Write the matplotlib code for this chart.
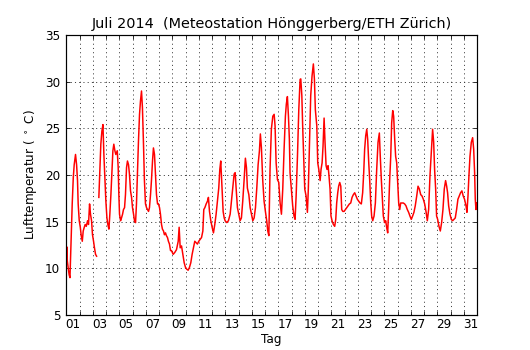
import numpy as np
import matplotlib
matplotlib.use('Agg')
import matplotlib.pyplot as plt
from matplotlib.ticker import FixedLocator, FixedFormatter, NullFormatter

# time in days since 1 July 2014 00:00, temperature in deg C (NaN = missing data)
DAYS = [
    0.00, 0.04, 0.08, 0.15, 0.22, 0.28, 0.35, 0.45, 0.53, 0.60, 0.70, 0.78, 0.85, 0.90, 0.98,
    1.06, 1.13, 1.21, 1.28, 1.36, 1.43, 1.51, 1.61, 1.68, 1.76, 1.83, 1.91, 1.98,
    2.06, 2.13, 2.21, 2.29, 2.37, 2.46, 2.54, 2.61, 2.69, 2.77, 2.84, 2.92, 2.99,
    3.07, 3.14, 3.22, 3.29, 3.37, 3.44, 3.52, 3.59, 3.67, 3.74, 3.85, 3.92, 3.97,
    4.02, 4.10, 4.17, 4.25, 4.32, 4.40, 4.47, 4.55, 4.62, 4.70, 4.77, 4.85, 4.93,
    5.00, 5.08, 5.15, 5.23, 5.30, 5.38, 5.45, 5.53, 5.60, 5.68, 5.75, 5.83, 5.90, 5.98,
    6.06, 6.13, 6.21, 6.28, 6.36, 6.43, 6.51, 6.58, 6.66, 6.73, 6.81, 6.89, 6.96,
    7.04, 7.11, 7.19, 7.26, 7.34, 7.41, 7.49, 7.56, 7.64, 7.71, 7.79, 7.87, 7.94,
    8.07, 8.19, 8.32, 8.45, 8.52, 8.60, 8.70, 8.80, 8.90,
    9.00, 9.10, 9.20, 9.30, 9.40, 9.50, 9.60, 9.70, 9.80, 9.90,
    10.00, 10.11, 10.21, 10.31, 10.38, 10.46, 10.56, 10.66, 10.73, 10.81, 10.91,
    11.01, 11.11, 11.21, 11.31, 11.41, 11.51, 11.59, 11.66, 11.76, 11.84, 11.92, 11.99,
    12.12, 12.24, 12.37, 12.47, 12.57, 12.67, 12.75, 12.82, 12.92,
    13.02, 13.12, 13.22, 13.32, 13.42, 13.52, 13.60, 13.67, 13.78, 13.88, 13.98,
    14.08, 14.18, 14.28, 14.38, 14.48, 14.58, 14.65, 14.73, 14.83, 14.93,
    15.03, 15.13, 15.21, 15.29, 15.38, 15.48, 15.59, 15.69, 15.76, 15.84, 15.94,
    16.04, 16.14, 16.24, 16.34, 16.44, 16.54, 16.61, 16.69, 16.77, 16.84, 16.89, 16.99,
    17.09, 17.19, 17.27, 17.35, 17.45, 17.55, 17.65, 17.70, 17.78, 17.85, 17.93,
    18.00, 18.10, 18.20, 18.27, 18.35, 18.45, 18.55, 18.65, 18.73, 18.80, 18.91, 18.98,
    19.06, 19.16, 19.23, 19.31, 19.38, 19.46, 19.53, 19.61, 19.68, 19.76, 19.83, 19.91, 19.98,
    20.06, 20.16, 20.26, 20.34, 20.41, 20.49, 20.56, 20.64, 20.72, 20.79, 20.87, 20.97,
    21.07, 21.17, 21.27, 21.37, 21.47, 21.57, 21.67, 21.77, 21.87, 21.97,
    22.07, 22.17, 22.27, 22.37, 22.45, 22.52, 22.60, 22.68, 22.75, 22.83, 22.90, 22.98,
    23.05, 23.13, 23.23, 23.33, 23.43, 23.53, 23.63, 23.70, 23.78, 23.85, 23.93,
    24.03, 24.11, 24.18, 24.26, 24.33, 24.41, 24.49, 24.56, 24.64, 24.71, 24.79, 24.86, 24.94,
    25.01, 25.09, 25.17, 25.24, 25.34, 25.44, 25.54, 25.64, 25.74, 25.84, 25.94,
    26.04, 26.14, 26.24, 26.34, 26.45, 26.55, 26.65, 26.75, 26.85, 26.95,
    27.05, 27.15, 27.25, 27.35, 27.45, 27.55, 27.65, 27.73, 27.80, 27.88, 27.95,
    28.03, 28.13, 28.23, 28.33, 28.43, 28.53, 28.63, 28.71, 28.78, 28.86, 28.96,
    29.06, 29.16, 29.26, 29.36, 29.46, 29.56, 29.66, 29.76, 29.86, 29.96,
    30.06, 30.17, 30.24, 30.32, 30.39, 30.47, 30.57, 30.67, 30.75, 30.82, 30.87, 30.92, 30.97,
]
TEMP = [
    11.0, 12.3, 10.8, 10.0, 9.3, 9.0, 12.2, 16.9, 19.7, 21.1, 22.2, 21.1, 19.4, 16.9, 15.1,
    14.4, 13.5, 12.9, 14.0, 14.4, 14.7, 14.5, 15.1, 14.7, 16.9, 15.8, 15.1, 13.6,
    12.9, 12.2, 11.5, 11.3, np.nan, 17.6, 20.8, 23.3, 24.7, 25.4, 22.2, 19.4, 17.2,
    15.4, 14.7, 14.2, 15.8, 17.9, 20.1, 22.6, 23.3, 22.6, 22.2, 22.6, 20.8, 17.9,
    15.8, 15.1, 15.4, 15.8, 16.3, 16.5, 17.9, 20.8, 21.5, 21.1, 20.1, 18.3, 17.6,
    16.5, 15.8, 15.1, 14.9, 16.9, 20.4, 23.6, 26.5, 27.9, 29.0, 27.2, 23.3, 19.4, 16.9,
    16.5, 16.3, 16.1, 16.5, 17.9, 19.4, 21.5, 22.9, 22.2, 20.1, 17.9, 16.9, 16.9,
    16.5, 15.8, 14.7, 14.2, 14.0, 13.6, 13.8, 13.5, 13.3, 12.9, 12.6, 11.9, 11.9,
    11.5, 11.7, 12.0, 12.9, 14.4, 12.2, 12.4, 11.5, 10.6,
    10.1, 9.9, 9.8, 10.1, 10.6, 11.5, 12.2, 12.9, 12.75, 12.6,
    12.9, 13.1, 13.3, 14.0, 16.3, 16.5, 16.9, 17.2, 17.6, 16.1, 15.1,
    14.4, 13.8, 14.7, 15.8, 17.2, 18.6, 20.6, 21.5, 18.6, 16.1, 15.4, 15.1,
    14.9, 15.1, 15.8, 17.2, 18.6, 20.1, 20.25, 18.6, 16.5,
    15.8, 15.1, 15.4, 17.2, 19.4, 21.8, 20.8, 18.6, 17.9, 16.5, 15.8,
    15.1, 15.4, 16.5, 18.6, 21.1, 22.6, 24.4, 22.9, 19.4, 17.2,
    16.1, 15.1, 14.0, 13.5, 20.6, 24.9, 26.3, 26.5, 25.25, 21.3, 19.5,
    19.2, 17.0, 15.8, 18.5, 22.75, 26.3, 27.6, 28.4, 26.3, 23.8, 20.25, 18.5,
    16.7, 15.6, 15.25, 17.75, 22.0, 27.0, 30.25, 30.3, 28.5, 24.9, 21.3,
    18.5, 17.75, 16.0, 18.5, 22.75, 28.5, 30.6, 31.9, 30.25, 27.0, 25.25, 21.3,
    20.6, 19.4, 20.6, 21.3, 23.1, 26.1, 23.5, 21.0, 20.6, 21.0, 19.9, 18.5, 15.6,
    15.1, 14.7, 14.5, 15.25, 17.0, 18.1, 18.8, 19.2, 18.8, 16.3, 16.1, 16.1,
    16.3, 16.5, 16.7, 16.9, 17.0, 17.6, 17.9, 18.1, 17.75, 17.4,
    17.2, 17.0, 16.9, 18.1, 20.25, 22.75, 24.2, 24.9, 23.8, 21.3, 19.5, 17.0,
    15.6, 15.1, 15.6, 17.0, 20.6, 23.5, 24.5, 22.0, 19.5, 17.75, 15.6,
    14.9, 15.1, 14.4, 13.8, 16.3, 19.5, 22.0, 25.6, 26.9, 26.3, 23.8, 22.0, 21.3,
    19.2, 17.0, 16.3, 17.0, 17.0, 17.0, 16.9, 16.7, 16.3, 16.0, 15.6,
    15.25, 15.6, 16.0, 16.7, 17.75, 18.8, 18.5, 17.9, 17.75, 17.4,
    16.9, 16.1, 15.1, 16.3, 19.9, 22.4, 24.9, 23.5, 20.6, 18.5, 15.6,
    15.25, 14.5, 14.0, 14.9, 16.3, 18.5, 19.4, 18.8, 18.1, 16.7, 15.8,
    15.25, 15.1, 15.25, 15.4, 16.3, 17.4, 17.75, 18.1, 18.3, 17.75,
    17.4, 16.7, 16.0, 17.75, 19.9, 22.0, 23.5, 24.0, 22.75, 20.25, 17.4, 16.3, 17.0,
]

MAJOR_DAYS = list(range(0, 32))
LABEL_POS = [0.5, 2.5, 4.5, 6.5, 8.5, 10.5, 12.5, 14.5, 16.5, 18.5, 20.5, 22.5, 24.5,
             26.5, 28.5, 30.5]
DAY_LABELS = ['01', '03', '05', '07', '09', '11', '13', '15', '17', '19', '21', '23',
              '25', '27', '29', '31']
Y_TICKS = [5, 10, 15, 20, 25, 30, 35]

TITLE = 'Juli 2014  (Meteostation Hönggerberg/ETH Zürich)'

DPI = 72
fig = plt.figure(figsize=(530 / DPI, 350 / DPI), dpi=DPI, facecolor='white')
ax = fig.add_axes([0.125, 0.1, 0.775, 0.8])

ax.plot(DAYS, TEMP, color='red', lw=1.5)

ax.set_xlim(0, 31)
ax.set_ylim(5, 35)

ax.xaxis.set_major_locator(FixedLocator(MAJOR_DAYS))
ax.xaxis.set_major_formatter(NullFormatter())
ax.xaxis.set_minor_locator(FixedLocator(LABEL_POS))
ax.xaxis.set_minor_formatter(FixedFormatter(DAY_LABELS))
ax.set_yticks(Y_TICKS)

ax.tick_params(axis='both', which='major', direction='in', length=4, width=0.8,
               top=True, right=True, labelsize=12, colors='black')
ax.tick_params(axis='x', which='minor', length=0, labelsize=12, pad=3)
ax.tick_params(axis='y', which='major', pad=6)

ax.grid(True, which='major', color='#333333', linestyle=(0, (1.2, 3.5)), linewidth=0.9)

for sp in ax.spines.values():
    sp.set_linewidth(1.2)
    sp.set_color('black')

ax.set_xlabel('Tag', fontsize=12, labelpad=2)
ax.set_ylabel('Lufttemperatur ( $^\\circ$ C)', fontsize=12, labelpad=6)
ax.set_title(TITLE, fontsize=14.4, pad=7)

fig.savefig('out.png', dpi=DPI, facecolor='white')
